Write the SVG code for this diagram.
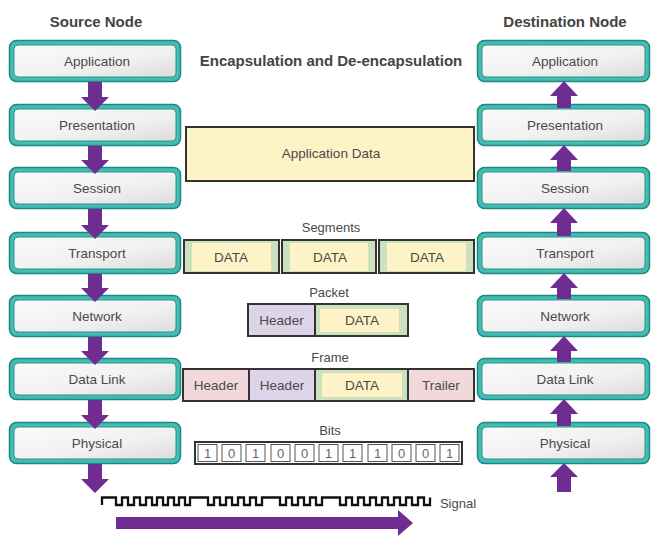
<svg xmlns="http://www.w3.org/2000/svg" width="671" height="545" viewBox="0 0 671 545">
<defs>
<linearGradient id="gIn" x1="0" y1="0" x2="1" y2="1">
<stop offset="0" stop-color="#fbfbfb"/>
<stop offset="0.6" stop-color="#f0f0f0"/>
<stop offset="1" stop-color="#dcdcdc"/>
</linearGradient>
</defs>
<style>
text{font-family:"Liberation Sans",Arial,sans-serif;fill:#4a4a4a;text-anchor:middle}
.title{font-size:15px;font-weight:bold;fill:#444}
.lbl{font-size:13.5px}
.small{font-size:13px}
.bit{font-size:13px;fill:#666}
.outer{fill:#45BBB1;stroke:#1D8A82;stroke-width:1.5}
.inner{fill:url(#gIn);stroke:#2A968D;stroke-width:1}
.arrow{fill:#6F2D91}
.box{stroke:#333;stroke-width:2}
.yellow{fill:#FDF3C6}
.green{fill:#CCE2BF}
.lav{fill:#DDD5E7}
.pink{fill:#F2D8DB}
.cell{fill:#fff;stroke:#555;stroke-width:1}
</style>
<rect width="671" height="545" fill="#fff"/>

<text class="title" x="96" y="27">Source Node</text>
<text class="title" x="565" y="27">Destination Node</text>
<text class="title" x="331" y="66">Encapsulation and De-encapsulation</text>

<!-- Source nodes -->
<g id="src-application"><rect class="outer" x="9.5" y="40.5" width="171" height="41" rx="7"/><rect class="inner" x="14" y="45" width="162" height="32" rx="4"/><text class="lbl" x="97" y="66">Application</text></g>
<g id="src-presentation"><rect class="outer" x="9.5" y="104.5" width="171" height="41" rx="7"/><rect class="inner" x="14" y="109" width="162" height="32" rx="4"/><text class="lbl" x="97" y="130">Presentation</text></g>
<g id="src-session"><rect class="outer" x="9.5" y="167.5" width="171" height="41" rx="7"/><rect class="inner" x="14" y="172" width="162" height="32" rx="4"/><text class="lbl" x="97" y="193">Session</text></g>
<g id="src-transport"><rect class="outer" x="9.5" y="232.5" width="171" height="41" rx="7"/><rect class="inner" x="14" y="237" width="162" height="32" rx="4"/><text class="lbl" x="97" y="258">Transport</text></g>
<g id="src-network"><rect class="outer" x="9.5" y="295.5" width="171" height="41" rx="7"/><rect class="inner" x="14" y="300" width="162" height="32" rx="4"/><text class="lbl" x="97" y="321">Network</text></g>
<g id="src-datalink"><rect class="outer" x="9.5" y="358.5" width="171" height="41" rx="7"/><rect class="inner" x="14" y="363" width="162" height="32" rx="4"/><text class="lbl" x="97" y="384">Data Link</text></g>
<g id="src-physical"><rect class="outer" x="9.5" y="422.5" width="171" height="41" rx="7"/><rect class="inner" x="14" y="427" width="162" height="32" rx="4"/><text class="lbl" x="97" y="448">Physical</text></g>

<!-- Destination nodes -->
<g id="dst-application"><rect class="outer" x="477.5" y="40.5" width="172" height="41" rx="7"/><rect class="inner" x="482" y="45" width="163" height="32" rx="4"/><text class="lbl" x="565" y="66">Application</text></g>
<g id="dst-presentation"><rect class="outer" x="477.5" y="104.5" width="172" height="41" rx="7"/><rect class="inner" x="482" y="109" width="163" height="32" rx="4"/><text class="lbl" x="565" y="130">Presentation</text></g>
<g id="dst-session"><rect class="outer" x="477.5" y="167.5" width="172" height="41" rx="7"/><rect class="inner" x="482" y="172" width="163" height="32" rx="4"/><text class="lbl" x="565" y="193">Session</text></g>
<g id="dst-transport"><rect class="outer" x="477.5" y="232.5" width="172" height="41" rx="7"/><rect class="inner" x="482" y="237" width="163" height="32" rx="4"/><text class="lbl" x="565" y="258">Transport</text></g>
<g id="dst-network"><rect class="outer" x="477.5" y="295.5" width="172" height="41" rx="7"/><rect class="inner" x="482" y="300" width="163" height="32" rx="4"/><text class="lbl" x="565" y="321">Network</text></g>
<g id="dst-datalink"><rect class="outer" x="477.5" y="358.5" width="172" height="41" rx="7"/><rect class="inner" x="482" y="363" width="163" height="32" rx="4"/><text class="lbl" x="565" y="384">Data Link</text></g>
<g id="dst-physical"><rect class="outer" x="477.5" y="422.5" width="172" height="41" rx="7"/><rect class="inner" x="482" y="427" width="163" height="32" rx="4"/><text class="lbl" x="565" y="448">Physical</text></g>

<!-- Data units -->
<g id="app-data">
<rect class="box yellow" x="186" y="127" width="288" height="54"/>
<text class="lbl" x="331" y="158">Application Data</text>
</g>

<g id="segments">
<text class="small" x="331" y="232">Segments</text>
<rect class="box green" x="184" y="240" width="95" height="33"/><rect class="yellow" x="192" y="243" width="79" height="28"/><text class="lbl" x="231" y="262">DATA</text>
<rect class="box green" x="282" y="240" width="94" height="33"/><rect class="yellow" x="290" y="243" width="78" height="28"/><text class="lbl" x="330" y="262">DATA</text>
<rect class="box green" x="379" y="240" width="95" height="33"/><rect class="yellow" x="387" y="243" width="79" height="28"/><text class="lbl" x="427" y="262">DATA</text>
</g>

<g id="packet">
<text class="small" x="329" y="297">Packet</text>
<rect class="box lav" x="248" y="304" width="67" height="32"/>
<rect class="box green" x="315" y="304" width="93" height="32"/>
<rect class="yellow" x="320" y="309" width="79" height="23"/>
<text class="lbl" x="281.5" y="325">Header</text>
<text class="lbl" x="362" y="325">DATA</text>
</g>

<g id="frame">
<text class="small" x="330" y="362">Frame</text>
<rect class="box pink" x="183" y="369" width="66" height="32"/>
<rect class="box lav" x="249" y="369" width="66" height="32"/>
<rect class="box green" x="315" y="369" width="93" height="32"/>
<rect class="yellow" x="322" y="373" width="80" height="24"/>
<rect class="box pink" x="408" y="369" width="66" height="32"/>
<text class="lbl" x="216" y="390">Header</text>
<text class="lbl" x="282" y="390">Header</text>
<text class="lbl" x="362" y="390">DATA</text>
<text class="lbl" x="441" y="390">Trailer</text>
</g>

<g id="bits">
<text class="small" x="330" y="435">Bits</text>
<rect x="195" y="442" width="267" height="22" fill="#fff" stroke="#333" stroke-width="2"/>
<rect class="cell" x="198" y="444.5" width="19" height="17"/><rect class="cell" x="222" y="444.5" width="19" height="17"/><rect class="cell" x="246" y="444.5" width="19" height="17"/><rect class="cell" x="271" y="444.5" width="19" height="17"/><rect class="cell" x="295" y="444.5" width="19" height="17"/><rect class="cell" x="319" y="444.5" width="19" height="17"/><rect class="cell" x="343" y="444.5" width="19" height="17"/><rect class="cell" x="368" y="444.5" width="19" height="17"/><rect class="cell" x="392" y="444.5" width="19" height="17"/><rect class="cell" x="416" y="444.5" width="19" height="17"/><rect class="cell" x="440" y="444.5" width="19" height="17"/>
<text class="bit" x="207.5" y="458">1</text><text class="bit" x="231.5" y="458">0</text><text class="bit" x="255.5" y="458">1</text><text class="bit" x="280.5" y="458">0</text><text class="bit" x="304.5" y="458">0</text><text class="bit" x="328.5" y="458">1</text><text class="bit" x="352.5" y="458">1</text><text class="bit" x="377.5" y="458">1</text><text class="bit" x="401.5" y="458">0</text><text class="bit" x="425.5" y="458">0</text><text class="bit" x="449.5" y="458">1</text>
</g>

<g id="signal">
<path d="M102,505 V497.5 H116 V505 H122 V497.5 H128 V505 H134 V497.5 H140 V505 H146 V497.5 H152 V505 H157 V497.5 H163 V505 H168 V497.5 H174 V505 H179 V497.5 H185 V505 H190 V497.5 H208 V505 H214 V497.5 H220 V505 H226 V497.5 H232 V505 H238 V497.5 H244 V505 H250 V497.5 H256 V505 H262 V497.5 H280 V505 H286 V497.5 H292 V505 H298 V497.5 H304 V505 H310 V497.5 H316 V505 H322 V497.5 H340 V505 H346 V497.5 H352 V505 H358 V497.5 H364 V505 H370 V497.5 H376 V505 H382 V497.5 H388 V505 H394 V497.5 H400 V505 H406 V497.5 H412 V505 H418 V497.5 H424 V505 H430 V497.5" fill="none" stroke="#111" stroke-width="2.3"/>
<text class="small" x="458" y="508">Signal</text>
</g>

<g id="connectors">
<path class="arrow" d="M88,82 H102 V97 H109 L95,111 L81,97 H88 Z"/>
<path class="arrow" d="M88,146 H102 V160 H109 L95,174 L81,160 H88 Z"/>
<path class="arrow" d="M88,209 H102 V225 H109 L95,239 L81,225 H88 Z"/>
<path class="arrow" d="M88,274 H102 V288 H109 L95,302 L81,288 H88 Z"/>
<path class="arrow" d="M88,337 H102 V351 H109 L95,365 L81,351 H88 Z"/>
<path class="arrow" d="M88,400 H102 V415 H109 L95,429 L81,415 H88 Z"/>
<path class="arrow" d="M88,464 H102 V479 H109 L95,493 L81,479 H88 Z"/>
<path class="arrow" d="M557,108 V96 H550 L564,81 L578,96 H571 V108 Z"/>
<path class="arrow" d="M557,171 V160 H550 L564,145 L578,160 H571 V171 Z"/>
<path class="arrow" d="M557,236 V223 H550 L564,208 L578,223 H571 V236 Z"/>
<path class="arrow" d="M557,299 V288 H550 L564,273 L578,288 H571 V299 Z"/>
<path class="arrow" d="M557,362 V351 H550 L564,336 L578,351 H571 V362 Z"/>
<path class="arrow" d="M557,426 V414 H550 L564,399 L578,414 H571 V426 Z"/>
<path class="arrow" d="M557,492 V477 H550 L564,463 L578,477 H571 V492 Z"/>
<path class="arrow" d="M116,517 H398 V510 L413,523 L398,536 V529 H116 Z"/>
</g>
</svg>
